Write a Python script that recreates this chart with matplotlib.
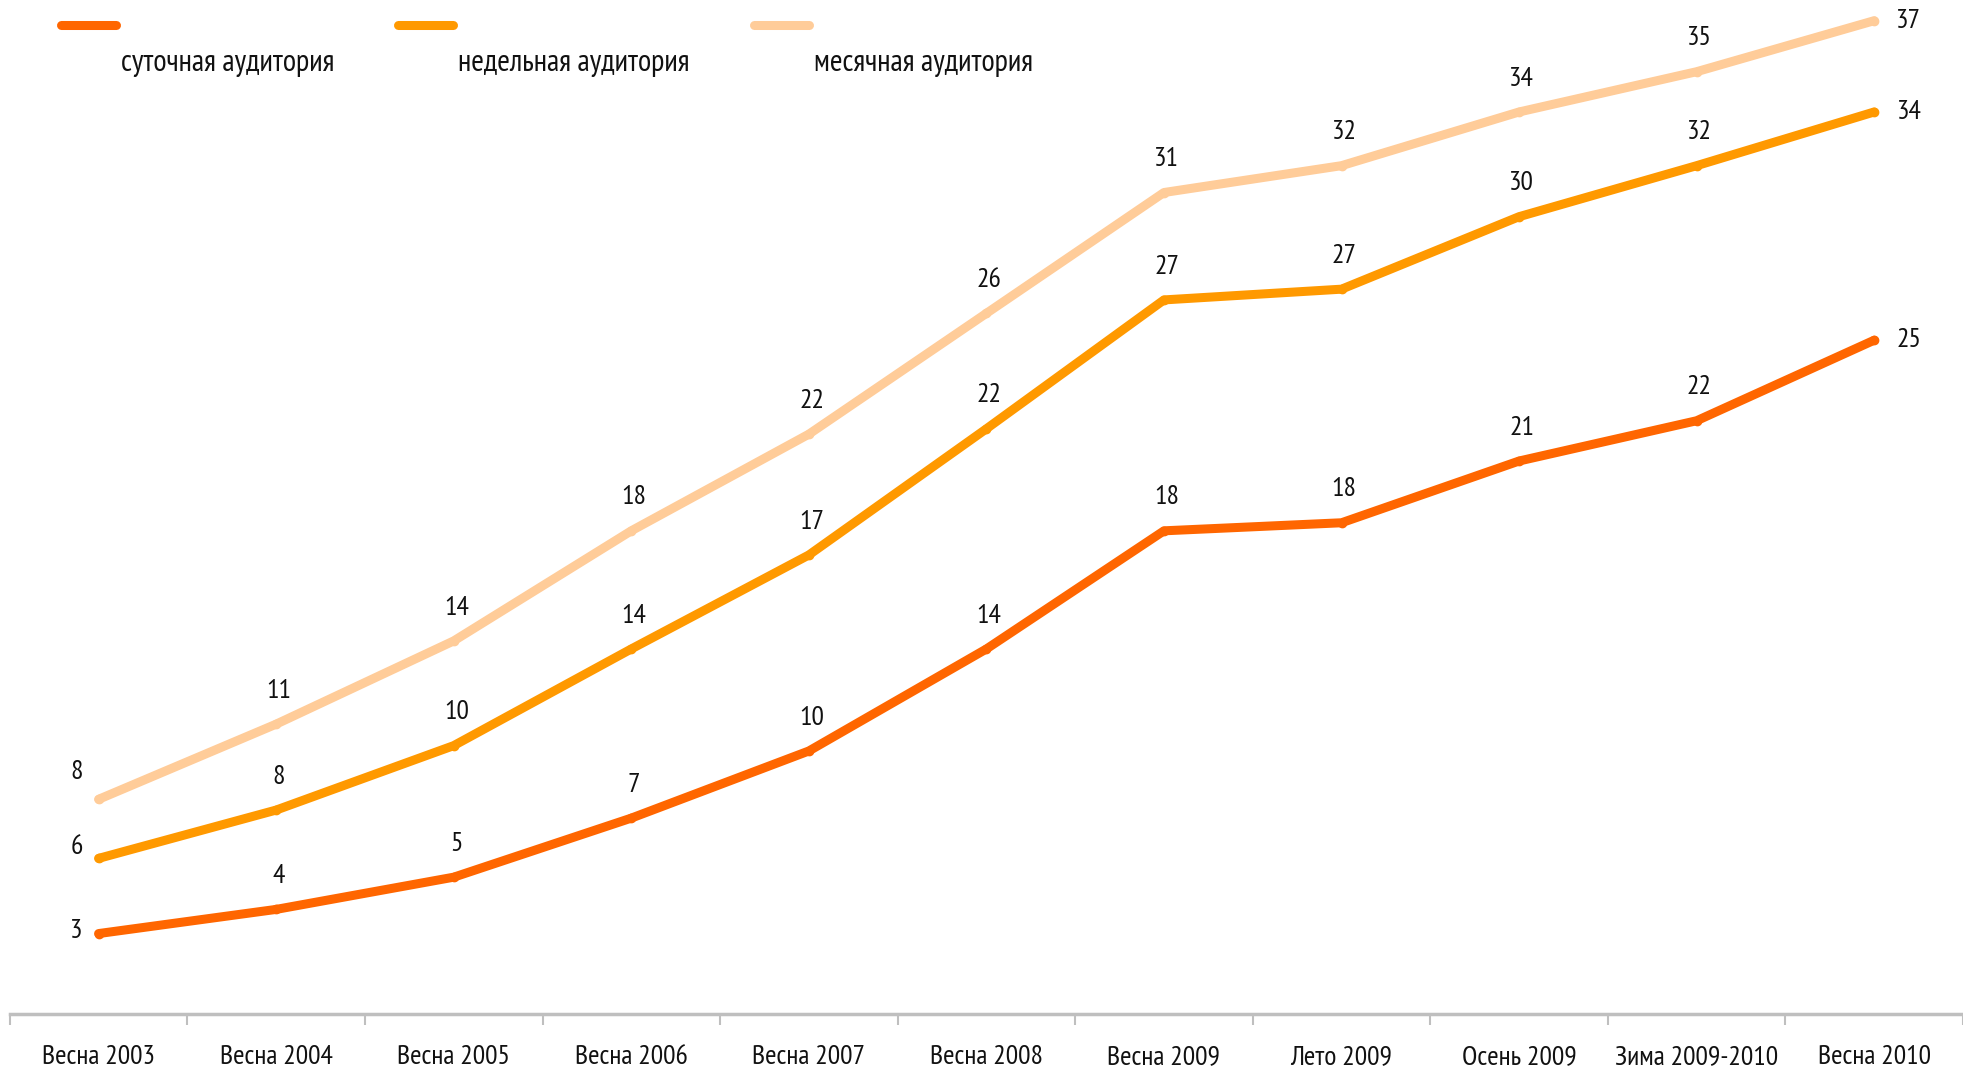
import matplotlib
matplotlib.use('Agg')
import matplotlib.pyplot as plt
from matplotlib.lines import Line2D

seasons = ['Весна 2003', 'Весна 2004', 'Весна 2005', 'Весна 2006', 'Весна 2007', 'Весна 2008',
           'Весна 2009', 'Лето 2009', 'Осень 2009', 'Зима 2009-2010', 'Весна 2010']

daily = [3.0, 3.9, 5.1, 7.3, 9.8, 13.6, 18.0, 18.3, 20.6, 22.1, 25.1]
weekly = [5.8, 7.6, 10.0, 13.6, 17.1, 21.8, 26.6, 27.0, 29.7, 31.6, 33.6]
monthly = [8.0, 10.8, 13.9, 18.0, 21.6, 26.1, 30.6, 31.6, 33.6, 35.1, 37.0]

series_names = ['суточная аудитория', 'недельная аудитория', 'месячная аудитория']
colors = ['#FF6600', '#FF9900', '#FFCC99']

plt.rcParams['font.family'] = ['PT Sans Narrow', 'Liberation Sans', 'DejaVu Sans']

fig = plt.figure(figsize=(19.63, 10.72), dpi=100)
ax = fig.add_axes([0.005, 0.054, 0.995, 0.946])

x = list(range(len(seasons)))
# vertical shift of the first label of each series (points)
first_dy = [2, 8, 20]
for values, color, fdy in zip([daily, weekly, monthly], colors, first_dy):
    ax.plot(x, values, color=color, linewidth=6.5, marker='o', markersize=6,
            solid_capstyle='round', clip_on=False, zorder=3)
    for i, v in enumerate(values):
        if i == 0:
            off = (-16, fdy)
        elif i == len(values) - 1:
            off = (25, 0)
        else:
            off = (2, 24)
        ax.annotate(f'{v:.0f}', (i, v), xytext=off, textcoords='offset points',
                    ha='center', va='center', fontsize=20, color='#111111')

ax.set_xlim(-0.5, len(seasons) - 0.5)
ax.set_ylim(0, 37.77)

for s in ['top', 'right', 'left']:
    ax.spines[s].set_visible(False)
ax.spines['bottom'].set_color('#BFBFBF')
ax.spines['bottom'].set_linewidth(2.5)

ax.set_yticks([])
ax.set_xticks(x)
ax.set_xticklabels(seasons, fontsize=20, color='#111111')
ax.tick_params(axis='x', which='major', length=0, pad=22)
ax.set_xticks([i - 0.5 for i in range(len(seasons) + 1)], minor=True)
ax.tick_params(axis='x', which='minor', length=8, width=1.5, color='#BFBFBF', direction='out')

# legend drawn by hand: handle on top, label below and to the right
handle_x = [0.031, 0.203, 0.384]
for hx, name, color in zip(handle_x, series_names, colors):
    fig.add_artist(Line2D([hx, hx + 0.028], [0.977, 0.977], transform=fig.transFigure,
                          color=color, linewidth=6.5, solid_capstyle='round'))
    fig.text(hx + 0.0305, 0.941, name, fontsize=22, color='#111111', va='center', ha='left')

fig.savefig('out.png', dpi=100)
